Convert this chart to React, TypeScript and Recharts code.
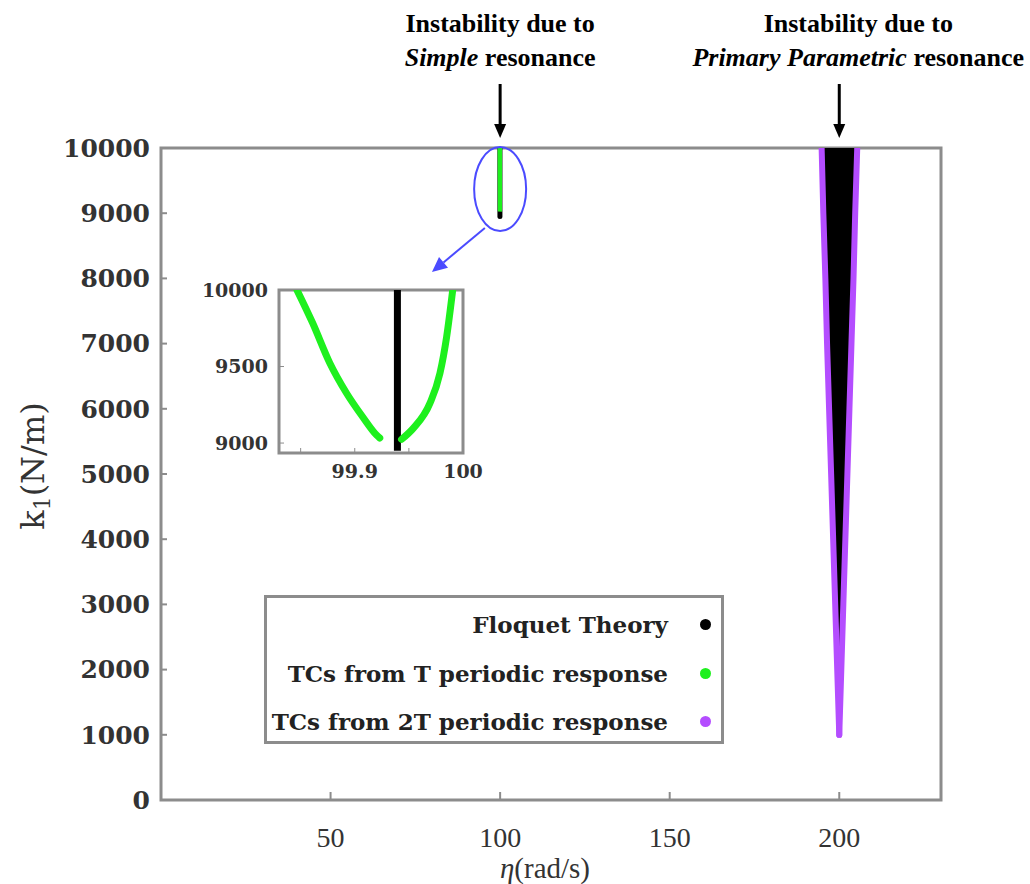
import React from "react";
import {
  ComposedChart,
  ScatterChart,
  Scatter,
  XAxis,
  YAxis,
  ReferenceArea,
  ReferenceDot,
  ReferenceLine,
} from "recharts";

const GRAY = "#8c8c8c";
const PURPLE = "#b44dff";
const GREEN = "#1ef01e";
const BLUE = "#4b4bff";
const DEJAVU = "'DejaVu Serif', serif";
const TIMES = "'Liberation Serif', 'Times New Roman', serif";

// primary parametric resonance region (eta limits per k1 level)
const K_LEVELS = [1000, 2000, 3000, 4000, 5000, 6000, 7000, 8000, 9000, 10000];
const PRIMARY_LEFT = [200.0, 199.4, 198.8, 198.2, 197.6, 197.0, 196.4, 195.9, 195.3, 194.8];
const PRIMARY_RIGHT = [200.0, 200.6, 201.2, 201.8, 202.4, 203.0, 203.6, 204.2, 204.7, 205.3];

// simple resonance
const SIMPLE_LEFT_ETA = [99.8466, 99.8611, 99.8769, 99.8923, 99.9074, 99.9201, 99.9231];
const SIMPLE_LEFT_K = [10000, 9784, 9523, 9327, 9170, 9052, 9033];
const SIMPLE_RIGHT_ETA = [99.9432, 99.954, 99.9694, 99.9787, 99.9849, 99.9905];
const SIMPLE_RIGHT_K = [9024, 9096, 9259, 9456, 9695, 10000];
const FLOQUET_SIMPLE_ETA = [99.9394, 99.9394];
const FLOQUET_SIMPLE_K = [8950, 10000];

const X_TICKS = [50, 100, 150, 200];
const Y_TICKS = [0, 1000, 2000, 3000, 4000, 5000, 6000, 7000, 8000, 9000, 10000];
const INSET_X_TICKS = [99.85, 99.9, 99.95, 100];
const INSET_X_LABELS = ["", "99.9", "", "100"];
const INSET_Y_TICKS = [9000, 9500, 10000];

const LEGEND_ITEMS = [
  { name: "Floquet Theory", color: "#000" },
  { name: "TCs from T periodic response", color: GREEN },
  { name: "TCs from 2T periodic response", color: PURPLE },
];

const zip = (xs: number[], ks: number[]) => xs.map((eta, i) => ({ eta, k: ks[i] }));

const primaryLeft = zip(PRIMARY_LEFT, K_LEVELS);
const primaryRight = zip(PRIMARY_RIGHT, K_LEVELS);
const primaryRegion = [...primaryLeft, ...[...primaryRight].reverse()];
const simpleLeft = zip(SIMPLE_LEFT_ETA, SIMPLE_LEFT_K);
const simpleRight = zip(SIMPLE_RIGHT_ETA, SIMPLE_RIGHT_K);
const floquetSimple = zip(FLOQUET_SIMPLE_ETA, FLOQUET_SIMPLE_K);

const noDot = () => <g />;

function Annotation(props: any) {
  const { cx, cy, lines, dx } = props;
  return (
    <g>
      <text x={cx + dx} y={cy - 116} textAnchor="middle" fontFamily={TIMES} fontWeight="bold" fontSize={26} fill="#000">
        Instability due to
      </text>
      <text x={cx + dx} y={cy - 82} textAnchor="middle" fontFamily={TIMES} fontWeight="bold" fontSize={26} fill="#000">
        <tspan fontStyle="italic">{lines[0]}</tspan> {lines[1]}
      </text>
      <line x1={cx} y1={cy - 64} x2={cx} y2={cy - 22} stroke="#000" strokeWidth={3} />
      <path d={`M${cx - 6},${cy - 24} L${cx + 6},${cy - 24} L${cx},${cy - 10} Z`} fill="#000" />
    </g>
  );
}

function BlueArrow(props: any) {
  const { x1, y1, x2, y2 } = props;
  const ang = Math.atan2(y2 - y1, x2 - x1);
  const L = 15;
  const W = 7;
  const bx = x2 - L * Math.cos(ang);
  const by = y2 - L * Math.sin(ang);
  const px = -Math.sin(ang) * W;
  const py = Math.cos(ang) * W;
  return (
    <g>
      <line x1={x1} y1={y1} x2={bx} y2={by} stroke={BLUE} strokeWidth={2} />
      <path d={`M${x2},${y2} L${bx + px},${by + py} L${bx - px},${by - py} Z`} fill={BLUE} />
    </g>
  );
}

function YTitle(props: any) {
  const { viewBox } = props;
  const cx = viewBox.x + 22;
  const cy = viewBox.y + viewBox.height / 2 - 8;
  return (
    <text
      x={cx}
      y={cy}
      transform={`rotate(-90, ${cx}, ${cy})`}
      textAnchor="middle"
      dominantBaseline="central"
      fontFamily={DEJAVU}
      fontSize={32}
      fill="#333"
    >
      k<tspan dy={9} fontSize={22}>1</tspan>
      <tspan dy={-9}>(N/m)</tspan>
    </text>
  );
}

function XTitle(props: any) {
  const { viewBox } = props;
  return (
    <text
      x={viewBox.x + viewBox.width / 2 - 6}
      y={viewBox.y + 78}
      textAnchor="middle"
      fontFamily={TIMES}
      fontSize={29}
      fill="#333"
    >
      <tspan fontStyle="italic">η</tspan>(rad/s)
    </text>
  );
}

function Inset() {
  return (
    <ScatterChart width={330} height={220} margin={{ top: 20, right: 47, bottom: 7, left: 19 }}>
      <XAxis
        type="number"
        dataKey="eta"
        domain={[99.83, 100]}
        ticks={INSET_X_TICKS}
        allowDataOverflow
        axisLine={false}
        tickSize={-5}
        tickMargin={17}
        tickLine={{ stroke: GRAY }}
        tickFormatter={(v: number) => INSET_X_LABELS[INSET_X_TICKS.indexOf(v)] ?? ""}
        tick={{ fontFamily: DEJAVU, fontWeight: "bold", fontSize: 19, fill: "#333" }}
        height={30}
      />
      <YAxis
        type="number"
        dataKey="k"
        domain={[8935, 10000]}
        ticks={INSET_Y_TICKS}
        allowDataOverflow
        axisLine={false}
        tickSize={-5}
        tickMargin={16}
        tickLine={{ stroke: GRAY }}
        tick={{ fontFamily: DEJAVU, fontWeight: "bold", fontSize: 19, fill: "#333" }}
        width={80}
      />
      <ReferenceArea x1={99.83} x2={100} y1={8935} y2={10000} fill="#fff" fillOpacity={1} stroke={GRAY} strokeWidth={3} />
      <Scatter data={floquetSimple} shape={noDot} line={{ stroke: "#000", strokeWidth: 7 }} isAnimationActive={false} />
      <Scatter
        data={simpleLeft}
        shape={noDot}
        lineJointType="monotoneX"
        line={{ stroke: GREEN, strokeWidth: 7, strokeLinecap: "round" }}
        isAnimationActive={false}
      />
      <Scatter
        data={simpleRight}
        shape={noDot}
        lineJointType="monotoneX"
        line={{ stroke: GREEN, strokeWidth: 7, strokeLinecap: "round" }}
        isAnimationActive={false}
      />
    </ScatterChart>
  );
}

function LegendBox() {
  return (
    <div
      style={{
        position: "absolute",
        left: 264,
        top: 595,
        width: 454,
        height: 143,
        border: `3px solid ${GRAY}`,
        background: "#fff",
        boxSizing: "content-box",
      }}
    >
      {LEGEND_ITEMS.map((it, i) => (
        <div key={it.name} style={{ position: "absolute", left: 0, top: 12 + i * 48.5, width: 454, height: 30 }}>
          <span
            style={{
              position: "absolute",
              right: 454 - 401,
              top: 0,
              whiteSpace: "nowrap",
              fontFamily: DEJAVU,
              fontWeight: "bold",
              fontSize: 23,
              lineHeight: "30px",
              color: "#222",
            }}
          >
            {it.name}
          </span>
          <span
            style={{
              position: "absolute",
              left: 433,
              top: 9,
              width: 11,
              height: 11,
              borderRadius: "50%",
              background: it.color,
            }}
          />
        </div>
      ))}
    </div>
  );
}

export default function App() {
  return (
    <div style={{ position: "absolute", left: 0, top: 0, width: 1030, height: 884, background: "#fff" }}>
      <ComposedChart width={1030} height={884} margin={{ top: 148, right: 89, bottom: 24, left: 11 }}>
        <XAxis
          type="number"
          dataKey="eta"
          domain={[0, 230]}
          ticks={X_TICKS}
          allowDataOverflow
          axisLine={false}
          tickSize={-8}
          tickMargin={35}
          tickLine={{ stroke: GRAY, strokeWidth: 2 }}
          tick={{ fontFamily: TIMES, fontSize: 28, fill: "#333" }}
          height={60}
          label={{ content: XTitle }}
        />
        <YAxis
          type="number"
          dataKey="k"
          domain={[0, 10000]}
          ticks={Y_TICKS}
          allowDataOverflow
          axisLine={false}
          tickSize={-6}
          tickMargin={17}
          tickLine={{ stroke: GRAY, strokeWidth: 2 }}
          tick={{ fontFamily: DEJAVU, fontWeight: "bold", fontSize: 25, fill: "#333" }}
          width={150}
          label={{ content: YTitle }}
        />
        <ReferenceArea x1={0} x2={230} y1={0} y2={10000} fill="none" stroke={GRAY} strokeWidth={3} />
        <Scatter data={primaryRegion} shape={noDot} line={{ stroke: "#000", strokeWidth: 1, fill: "#000" }} isAnimationActive={false} />
        <Scatter data={primaryLeft} shape={noDot} line={{ stroke: PURPLE, strokeWidth: 6, strokeLinecap: "round" }} isAnimationActive={false} />
        <Scatter data={primaryRight} shape={noDot} line={{ stroke: PURPLE, strokeWidth: 6, strokeLinecap: "round" }} isAnimationActive={false} />
        <Scatter data={floquetSimple} shape={noDot} line={{ stroke: "#000", strokeWidth: 5, strokeLinecap: "round" }} isAnimationActive={false} />
        <Scatter data={simpleLeft} shape={noDot} line={{ stroke: GREEN, strokeWidth: 4 }} isAnimationActive={false} />
        <Scatter data={simpleRight} shape={noDot} line={{ stroke: GREEN, strokeWidth: 4 }} isAnimationActive={false} />
        <ReferenceDot
          x={100}
          y={9370}
          ifOverflow="visible"
          shape={(p: any) => <ellipse cx={p.cx} cy={p.cy} rx={26} ry={42} fill="none" stroke={BLUE} strokeWidth={2} />}
        />
        <ReferenceLine
          segment={[{ x: 95.5, y: 8773 }, { x: 79.9, y: 8098 }]}
          ifOverflow="visible"
          shape={BlueArrow}
        />
        <ReferenceDot
          x={100}
          y={10000}
          ifOverflow="visible"
          shape={(p: any) => <Annotation {...p} dx={0} lines={["Simple", "resonance"]} />}
        />
        <ReferenceDot
          x={200}
          y={10000}
          ifOverflow="visible"
          shape={(p: any) => <Annotation {...p} dx={19} lines={["Primary Parametric", "resonance"]} />}
        />
      </ComposedChart>
      <div style={{ position: "absolute", left: 180, top: 270 }}>
        <Inset />
      </div>
      <LegendBox />
    </div>
  );
}
